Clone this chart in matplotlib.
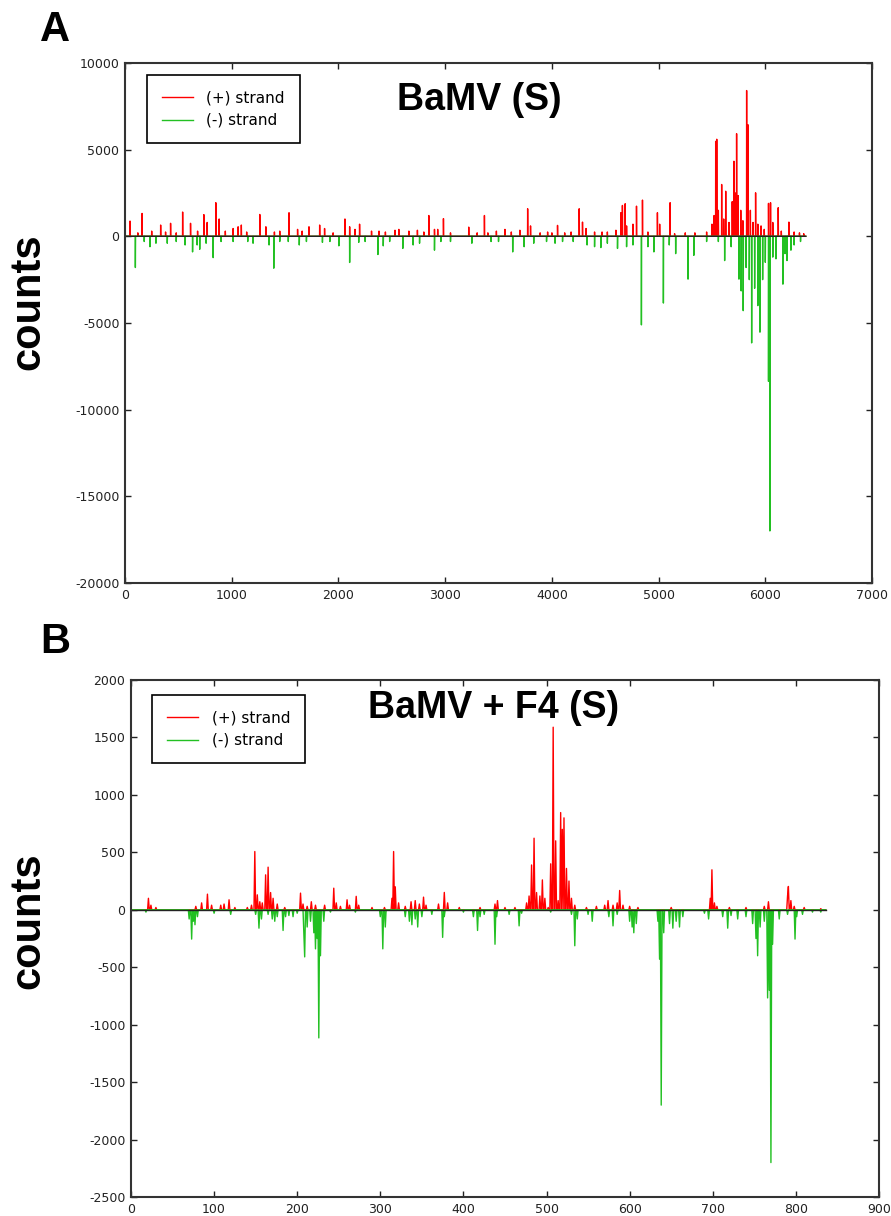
import matplotlib.pyplot as plt
import numpy as np

plt.rcParams["axes.unicode_minus"] = False

# ---- panel A: BaMV (S), genome positions 0..6379 ----
a_len = 6380
a_plus_pos = [47, 120, 160, 250, 334, 380, 427, 480, 540, 614, 680, 739, 770, 851, 882, 940,
              1013, 1060, 1090, 1140, 1263, 1320, 1400, 1450, 1537, 1617, 1660, 1724, 1824, 1870,
              1950, 2061, 2105, 2155, 2198, 2310, 2380, 2440, 2530, 2566, 2660, 2740, 2800, 2847,
              2900, 2930, 2984, 3050, 3221, 3300, 3368, 3400, 3480, 3560, 3620, 3700, 3773, 3800,
              3890, 3960, 4000, 4053, 4120, 4180, 4256, 4287, 4320, 4400, 4470, 4520, 4600, 4646,
              4661, 4687, 4700, 4760, 4793, 4849, 4900, 4989, 5010, 5108, 5150, 5250, 5340, 5450,
              5500, 5520, 5535, 5545, 5560, 5591, 5610, 5629, 5660, 5690, 5706, 5720, 5731, 5745,
              5770, 5790, 5825, 5837, 5860, 5885, 5909, 5930, 5960, 5990, 6030, 6049, 6070, 6121,
              6150, 6221, 6270, 6320, 6360]
a_plus_val = [880, 200, 1320, 300, 650, 250, 750, 200, 1400, 750, 300, 1250, 800, 1940, 1000, 300,
              450, 550, 650, 250, 1260, 550, 250, 300, 1360, 400, 300, 550, 650, 450,
              200, 1000, 550, 400, 700, 300, 300, 250, 350, 400, 300, 350, 250, 1200,
              400, 400, 1020, 200, 530, 200, 1200, 200, 300, 400, 250, 350, 1590, 600,
              200, 250, 200, 630, 200, 250, 1590, 820, 450, 250, 250, 250, 350, 1360,
              1780, 1880, 600, 700, 1740, 2090, 250, 1360, 700, 1940, 150, 200, 200, 250,
              700, 1200, 5480, 5600, 1500, 2990, 1000, 2600, 800, 2000, 4330, 2500, 5920, 2350,
              1500, 900, 8410, 6440, 1500, 800, 2510, 700, 600, 400, 1900, 1940, 800, 1650,
              300, 820, 250, 200, 150]
a_minus_pos = [97, 180, 234, 290, 396, 480, 563, 633, 676, 700, 760, 826, 900, 1013, 1150, 1200,
               1350, 1394, 1450, 1530, 1633, 1700, 1850, 1920, 2004, 2105, 2190, 2250, 2370, 2420,
               2480, 2603, 2700, 2760, 2900, 2960, 3050, 3250, 3430, 3500, 3633, 3740, 3830, 3950,
               4030, 4100, 4200, 4330, 4400, 4459, 4520, 4615, 4700, 4760, 4839, 4900, 4956, 5045,
               5100, 5160, 5276, 5330, 5450, 5560, 5619, 5680, 5753, 5774, 5793, 5820, 5850, 5872,
               5900, 5930, 5950, 5975, 6000, 6030, 6043, 6070, 6100, 6165, 6185, 6203, 6240, 6270,
               6330]
a_minus_val = [-1800, -300, -600, -400, -400, -300, -500, -900, -500, -750, -400, -1230, -300, -300,
               -300, -400, -500, -1840, -300, -300, -500, -300, -350, -300, -550, -1510, -350, -300,
               -1050, -550, -300, -700, -500, -400, -800, -300, -300, -400, -300, -300, -900, -600,
               -400, -300, -400, -300, -300, -500, -600, -650, -400, -700, -600, -500, -5110, -600,
               -900, -3850, -500, -1000, -2470, -1100, -300, -300, -1400, -600, -2470, -3150, -4290,
               -1800, -2500, -6150, -3000, -4000, -5530, -2500, -1500, -8370, -17000, -1200, -1300,
               -2760, -1000, -1400, -800, -500, -300]

# ---- panel B: BaMV + F4 (S), positions 0..836 ----
b_len = 837
b_plus_pos = [21, 24, 30, 78, 85, 92, 97, 108, 112, 118, 125, 140, 145, 149, 152, 155, 158, 162,
              165, 168, 171, 176, 185, 204, 207, 212, 217, 222, 233, 244, 247, 252, 260, 263, 271,
              274, 290, 305, 314, 316, 318, 322, 330, 337, 342, 347, 352, 355, 370, 377, 381, 395,
              420, 438, 441, 450, 462, 476, 479, 482, 485, 488, 492, 495, 498, 502, 505, 508, 511,
              514, 517, 519, 521, 524, 527, 530, 534, 548, 560, 570, 574, 580, 585, 588, 592, 600,
              610, 650, 697, 699, 702, 705, 720, 740, 762, 767, 790, 791, 794, 798, 810, 830]
b_plus_val = [100, 40, 20, 30, 60, 136, 40, 40, 50, 87, 20, 20, 40, 507, 130, 70, 60, 304,
              371, 150, 100, 50, 20, 145, 50, 30, 70, 40, 40, 188, 60, 30, 87, 40, 117,
              40, 20, 20, 100, 507, 200, 60, 30, 70, 80, 50, 110, 40, 50, 151, 60, 20,
              20, 50, 80, 20, 20, 60, 120, 390, 623, 150, 120, 260, 100, 20, 400, 1589, 600,
              80, 846, 700, 800, 360, 250, 100, 40, 20, 30, 40, 80, 40, 60, 168, 40, 30,
              20, 20, 100, 348, 60, 30, 20, 20, 30, 70, 120, 203, 80, 30, 20, 10]
b_minus_pos = [18, 70, 73, 75, 77, 80, 100, 120, 150, 154, 157, 165, 170, 173, 176, 183, 186, 190,
               195, 200, 208, 209, 212, 216, 220, 222, 224, 226, 228, 232, 240, 270, 300, 303, 306,
               330, 335, 338, 342, 345, 350, 362, 375, 377, 400, 412, 417, 420, 425, 438, 440, 455,
               467, 470, 505, 530, 534, 537, 550, 555, 575, 580, 585, 600, 603, 605, 608, 634, 636,
               638, 641, 648, 652, 656, 660, 664, 690, 695, 712, 718, 722, 730, 740, 748, 752, 754,
               757, 762, 766, 768, 770, 772, 780, 790, 799, 801, 808, 820, 830]
b_minus_val = [-20, -80, -255, -100, -130, -60, -30, -40, -40, -160, -80, -40, -80, -100, -60, -180,
               -60, -50, -60, -30, -200, -410, -150, -100, -200, -340, -250, -1115, -400, -100, -20,
               -20, -60, -340, -150, -60, -100, -130, -80, -150, -60, -40, -240, -60, -20, -60, -180,
               -60, -40, -300, -60, -40, -140, -30, -20, -40, -313, -80, -40, -100, -60, -140, -40,
               -100, -150, -200, -120, -100, -430, -1700, -200, -120, -160, -100, -150, -60, -30, -80,
               -60, -160, -50, -80, -60, -120, -250, -400, -150, -100, -767, -700, -2200, -300, -80,
               -40, -255, -60, -40, -20, -20]

panels = [
    dict(n=a_len, ppos=a_plus_pos, pval=a_plus_val, mpos=a_minus_pos, mval=a_minus_val,
         title="BaMV (S)", letter="A", rect=[0.1403, 0.5206, 0.8384, 0.4276],
         xlim=(0, 7000), xstep=1000, ylim=(-20000, 10000), ystep=5000,
         title_xy=(0.474, 0.929), leg_anchor=(0.029, 0.977),
         letter_y=0.975, counts_y=0.752),
    dict(n=b_len, ppos=b_plus_pos, pval=b_plus_val, mpos=b_minus_pos, mval=b_minus_val,
         title="BaMV + F4 (S)", letter="B", rect=[0.147, 0.0156, 0.8395, 0.4252],
         xlim=(0, 900), xstep=100, ylim=(-2500, 2000), ystep=500,
         title_xy=(0.485, 0.946), leg_anchor=(0.028, 0.971),
         letter_y=0.472, counts_y=0.243),
]

fig = plt.figure(figsize=(8.91, 12.16), dpi=100)
bold = dict(family="Liberation Sans", fontweight="bold")

for p in panels:
    ax = fig.add_axes(p["rect"])
    x = np.arange(p["n"])
    plus = np.zeros(p["n"])
    plus[p["ppos"]] = p["pval"]
    minus = np.zeros(p["n"])
    minus[p["mpos"]] = p["mval"]
    ax.plot(x, plus, color="#ff0000", lw=1, label="(+) strand")
    ax.plot(x, minus, color="#22c022", lw=1, label="(-) strand")
    ax.plot(x, np.zeros(p["n"]), color="#222222", lw=1)

    ax.set_xlim(*p["xlim"])
    ax.set_ylim(*p["ylim"])
    ax.set_xticks(np.arange(p["xlim"][0], p["xlim"][1] + 1, p["xstep"]))
    ax.set_yticks(np.arange(p["ylim"][0], p["ylim"][1] + 1, p["ystep"]))
    ax.tick_params(direction="in", top=True, right=True, length=4, width=1,
                   labelsize=9, colors="#222222", pad=4)
    for s in ax.spines.values():
        s.set_linewidth(1.5)
        s.set_color("#333333")

    leg = ax.legend(loc="upper left", bbox_to_anchor=p["leg_anchor"], fontsize=11,
                    fancybox=False, framealpha=1, borderaxespad=0, handlelength=2.0,
                    borderpad=1.0, handletextpad=0.9)
    leg.get_frame().set_edgecolor("black")
    leg.get_frame().set_linewidth(1.2)

    ax.text(*p["title_xy"], p["title"], transform=ax.transAxes, ha="center", va="center",
            fontsize=27, **bold)
    fig.text(0.062, p["letter_y"], p["letter"], ha="center", va="center", fontsize=30, **bold)
    fig.text(0.032, p["counts_y"], "counts", ha="center", va="center", rotation=90,
             fontsize=30, **bold)

fig.savefig("out.png", dpi=100)
